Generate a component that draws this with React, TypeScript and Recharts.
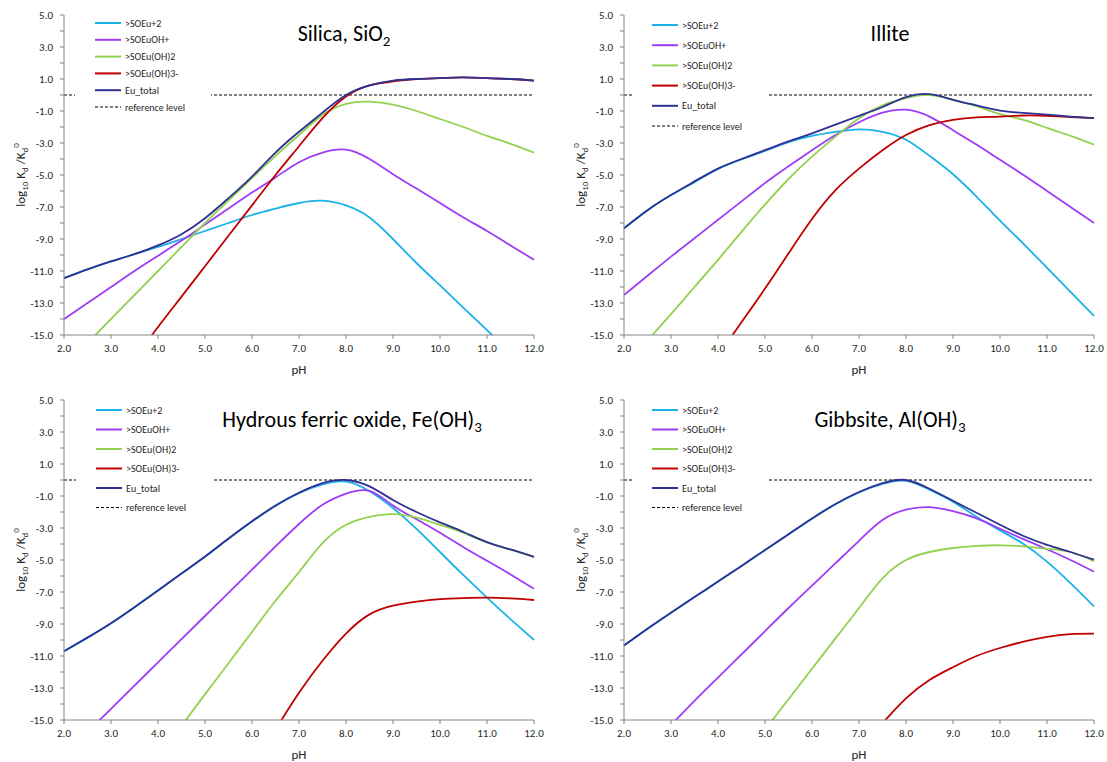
import React from 'react';
import { LineChart, Line, XAxis, YAxis, ReferenceLine, Legend } from 'recharts';

const PH = [2, 2.5, 3, 3.5, 4, 4.5, 5, 5.5, 6, 6.5, 7, 7.5, 8, 8.5, 9, 9.5, 10, 10.5, 11, 11.5, 12];
const PH_TICKS = [2, 3, 4, 5, 6, 7, 8, 9, 10, 11, 12];
const LOG_TICKS = [-15, -14, -13, -12, -11, -10, -9, -8, -7, -6, -5, -4, -3, -2, -1, 0, 1, 2, 3, 4, 5];
const REFERENCE_LEVEL = 0;

// Silica, SiO2
const silicaSOEu = [-11.45, -10.9, -10.4, -9.95, -9.5, -9.0, -8.5, -8.0, -7.5, -7.1, -6.75, -6.6, -6.9, -7.65, -9.0, -10.5, -11.9, -13.3, -14.7, -16.1, -17.5];
const silicaSOEuOH = [-14.0, -13.0, -12.0, -11.0, -10.05, -9.1, -8.1, -7.1, -6.1, -5.15, -4.2, -3.6, -3.42, -4.0, -4.95, -5.85, -6.75, -7.65, -8.5, -9.4, -10.3];
const silicaSOEuOH2 = [-17.0, -15.5, -14.0, -12.5, -11.0, -9.5, -8.0, -6.6, -5.2, -3.8, -2.5, -1.25, -0.55, -0.42, -0.6, -1.0, -1.5, -2.0, -2.55, -3.05, -3.6];
const silicaSOEuOH3 = [null, null, null, -16.5, -14.5, -12.6, -10.7, -8.8, -6.9, -5.0, -3.2, -1.45, -0.1, 0.6, 0.85, 1.0, 1.05, 1.1, 1.05, 1.0, 0.9];
const silicaTotal = [-11.45, -10.9, -10.4, -9.95, -9.4, -8.7, -7.7, -6.45, -5.1, -3.6, -2.3, -1.1, 0.0, 0.6, 0.9, 1.0, 1.05, 1.1, 1.05, 1.0, 0.9];

// Illite
const illiteSOEu = [-8.33, -7.2, -6.25, -5.45, -4.62, -4.02, -3.5, -2.95, -2.55, -2.3, -2.15, -2.3, -2.8, -3.8, -4.95, -6.35, -7.85, -9.3, -10.8, -12.3, -13.8];
const illiteSOEuOH = [-12.5, -11.3, -10.1, -8.95, -7.8, -6.65, -5.5, -4.45, -3.45, -2.5, -1.7, -1.1, -0.92, -1.35, -2.2, -3.1, -4.05, -5.0, -6.0, -7.0, -8.0];
const illiteSOEuOH2 = [-17.0, -15.35, -13.7, -12.0, -10.3, -8.55, -6.85, -5.25, -3.85, -2.6, -1.45, -0.65, -0.2, 0.0, -0.3, -0.7, -1.2, -1.55, -2.05, -2.55, -3.1];
const illiteSOEuOH3 = [null, null, null, null, -16.3, -14.2, -12.1, -9.9, -7.75, -5.95, -4.6, -3.45, -2.5, -1.88, -1.55, -1.4, -1.35, -1.28, -1.3, -1.38, -1.45];
const illiteTotal = [-8.33, -7.2, -6.25, -5.4, -4.6, -4.0, -3.45, -2.9, -2.4, -1.85, -1.3, -0.75, -0.13, 0.05, -0.3, -0.65, -0.97, -1.12, -1.23, -1.35, -1.45];

// Hydrous ferric oxide, Fe(OH)3
const hfoSOEu = [-10.7, -9.85, -8.95, -7.95, -6.9, -5.85, -4.8, -3.68, -2.6, -1.62, -0.82, -0.28, -0.1, -0.7, -1.75, -3.05, -4.5, -5.95, -7.35, -8.7, -10.0];
const hfoSOEuOH = [-17.2, -15.75, -14.3, -12.85, -11.4, -9.95, -8.5, -7.05, -5.6, -4.15, -2.75, -1.55, -0.85, -0.68, -1.6, -2.45, -3.3, -4.2, -5.05, -5.9, -6.8];
const hfoSOEuOH2 = [null, null, null, null, -17.3, -15.35, -13.4, -11.45, -9.5, -7.55, -5.75, -3.95, -2.8, -2.3, -2.13, -2.35, -2.8, -3.3, -3.9, -4.35, -4.8];
const hfoSOEuOH3 = [null, null, null, null, null, null, null, null, null, -15.6, -13.3, -11.3, -9.6, -8.4, -7.85, -7.6, -7.45, -7.38, -7.35, -7.4, -7.5];
const hfoTotal = [-10.7, -9.85, -8.95, -7.95, -6.9, -5.85, -4.78, -3.66, -2.58, -1.6, -0.8, -0.2, 0.0, -0.4, -1.25, -2.0, -2.65, -3.25, -3.88, -4.34, -4.8];

// Gibbsite, Al(OH)3
const gibbsiteSOEu = [-10.35, -9.3, -8.3, -7.32, -6.35, -5.37, -4.38, -3.4, -2.42, -1.52, -0.78, -0.25, -0.05, -0.6, -1.35, -2.3, -3.15, -4.0, -5.1, -6.45, -7.9];
const gibbsiteSOEuOH = [-18.1, -16.7, -15.3, -13.8, -12.35, -10.9, -9.45, -8.0, -6.6, -5.2, -3.8, -2.5, -1.85, -1.7, -1.95, -2.4, -3.05, -3.7, -4.33, -5.0, -5.73];
const gibbsiteSOEuOH2 = [null, null, null, null, null, null, -15.6, -13.7, -11.8, -9.9, -8.0, -6.15, -5.0, -4.5, -4.25, -4.12, -4.08, -4.15, -4.3, -4.5, -5.08];
const gibbsiteSOEuOH3 = [null, null, null, null, null, null, null, null, null, null, null, -15.2, -13.65, -12.5, -11.7, -11.0, -10.5, -10.1, -9.8, -9.63, -9.6];
const gibbsiteTotal = [-10.35, -9.3, -8.3, -7.32, -6.35, -5.37, -4.38, -3.39, -2.4, -1.5, -0.75, -0.2, 0.0, -0.55, -1.3, -2.05, -2.8, -3.5, -4.05, -4.5, -4.98];

const SERIES = [
  { key: 'soeu', name: '>SOEu+2', color: '#1BB1EA' },
  { key: 'soeuoh', name: '>SOEuOH+', color: '#9E3BF7' },
  { key: 'soeuoh2', name: '>SOEu(OH)2', color: '#92D050' },
  { key: 'soeuoh3', name: '>SOEu(OH)3-', color: '#C00000' },
  { key: 'total', name: 'Eu_total', color: '#2E3192' },
];

const FONT = 'Carlito, Calibri, Lato, "Noto Sans", sans-serif';
const AXIS_COLOR = '#868686';
const TEXT_COLOR = '#262626';

const PANELS = [
  {
    id: 'silica', left: 0, top: 0,
    title: 'Silica, SiO', sub: '2', titleX: 344, titleY: 41,
    values: [silicaSOEu, silicaSOEuOH, silicaSOEuOH2, silicaSOEuOH3, silicaTotal],
    legendLeft: 75, legendGap: 16.8, legendY0: 9,
  },
  {
    id: 'illite', left: 560, top: 0,
    title: 'Illite', sub: '', titleX: 330, titleY: 41,
    values: [illiteSOEu, illiteSOEuOH, illiteSOEuOH2, illiteSOEuOH3, illiteTotal],
    legendLeft: 72, legendGap: 20.2, legendY0: 11,
  },
  {
    id: 'hfo', left: 0, top: 385,
    title: 'Hydrous ferric oxide, Fe(OH)', sub: '3', titleX: 352, titleY: 42,
    values: [hfoSOEu, hfoSOEuOH, hfoSOEuOH2, hfoSOEuOH3, hfoTotal],
    legendLeft: 76, legendGap: 19.5, legendY0: 11,
  },
  {
    id: 'gibbsite', left: 560, top: 385,
    title: 'Gibbsite, Al(OH)', sub: '3', titleX: 330, titleY: 42,
    values: [gibbsiteSOEu, gibbsiteSOEuOH, gibbsiteSOEuOH2, gibbsiteSOEuOH3, gibbsiteTotal],
    legendLeft: 72, legendGap: 19.5, legendY0: 11,
  },
];

const LegendBox = ({ gap, y0 }: { gap: number; y0: number }) => {
  const h = y0 + gap * 5 + 10;
  return (
    <svg width={136} height={h} style={{ display: 'block', fontFamily: FONT }}>
      <rect x={0} y={0} width={136} height={h} fill="#fff" />
      {SERIES.map((s, i) => (
        <g key={s.key}>
          <line x1={20} x2={46} y1={y0 + i * gap} y2={y0 + i * gap} stroke={s.color} strokeWidth={2} />
          <text x={50} y={y0 + i * gap} dy="0.35em" fontSize={10} fill={TEXT_COLOR}>{s.name}</text>
        </g>
      ))}
      <line x1={20} x2={46} y1={y0 + 5 * gap} y2={y0 + 5 * gap} stroke="#000" strokeWidth={1} strokeDasharray="3 2" />
      <text x={50} y={y0 + 5 * gap} dy="0.35em" fontSize={10} fill={TEXT_COLOR}>reference level</text>
    </svg>
  );
};

const Panel = ({ p }: { p: typeof PANELS[number] }) => {
  const rows = PH.map((ph, i) => {
    const row: Record<string, number | null> = { pH: ph };
    SERIES.forEach((s, k) => { row[s.key] = p.values[k][i]; });
    return row;
  });

  return (
    <div style={{ position: 'absolute', left: p.left, top: p.top, width: 560, height: 380 }}>
      <LineChart width={560} height={380} data={rows} margin={{ top: 15, right: 26, bottom: 15, left: 24 }}>
        <XAxis
          type="number" dataKey="pH" domain={[2, 12]} ticks={PH_TICKS} interval={0}
          tickFormatter={(v: number) => v.toFixed(1)}
          height={30} tickSize={4} tickMargin={5}
          stroke={AXIS_COLOR} tick={{ fill: TEXT_COLOR, fontSize: 11, fontFamily: FONT }}
        />
        <YAxis
          type="number" domain={[-15, 5]} ticks={LOG_TICKS} interval={0} allowDataOverflow
          tickFormatter={(v: number) => (Math.abs(v) % 2 === 1 ? v.toFixed(1) : '')}
          width={40} tickSize={4} tickMargin={7}
          stroke={AXIS_COLOR} tick={{ fill: TEXT_COLOR, fontSize: 11, fontFamily: FONT }}
        />
        <ReferenceLine y={REFERENCE_LEVEL} stroke="#000" strokeWidth={1.2} strokeDasharray="3 2" />
        {SERIES.map(s => (
          <Line
            key={s.key} dataKey={s.key} name={s.name} type="natural"
            stroke={s.color} strokeWidth={1.8} dot={false} activeDot={false}
            isAnimationActive={false}
          />
        ))}
        <Legend
          layout="vertical" verticalAlign="middle" align="center"
          wrapperStyle={{ left: p.legendLeft, top: 14, width: 136 }}
          content={<LegendBox gap={p.legendGap} y0={p.legendY0} />}
        />
      </LineChart>
      <svg width={560} height={380} style={{ position: 'absolute', left: 0, top: 0, pointerEvents: 'none', fontFamily: FONT }}>
        <text x={p.titleX} y={p.titleY} textAnchor="middle" fontSize={22} fill="#000">
          {p.title}
          {p.sub ? <tspan dy={5} fontSize={15}>{p.sub}</tspan> : null}
        </text>
        <text x={25} y={175} transform="rotate(-90 25 175)" textAnchor="middle" fontSize={13} fill={TEXT_COLOR}>
          log<tspan fontSize={9} dy={3}>10</tspan>
          <tspan dy={-3}> K</tspan><tspan fontSize={9} dy={3}>d</tspan>
          <tspan dy={-3}> /K</tspan><tspan fontSize={9} dy={3}>d</tspan>
          <tspan fontSize={9} dy={-9}>0</tspan>
        </text>
        <text x={299} y={374} textAnchor="middle" fontSize={13} fill={TEXT_COLOR}>pH</text>
      </svg>
    </div>
  );
}

export default function App() {
  return (
    <div style={{ position: 'absolute', left: 0, top: 0, width: 1107, height: 762, background: '#fff', fontFamily: FONT }}>
      {PANELS.map(p => <Panel key={p.id} p={p} />)}
    </div>
  );
}
